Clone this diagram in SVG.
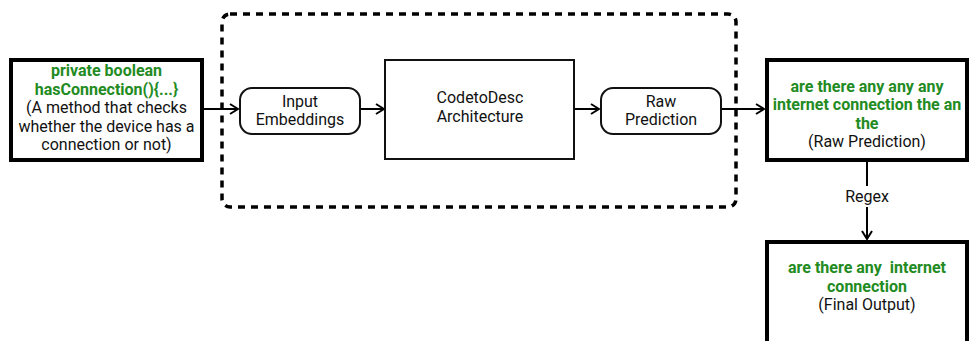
<svg xmlns="http://www.w3.org/2000/svg" width="971" height="341" viewBox="0 0 971 341">
<defs>
<style>
text{font-family:Roboto,"Liberation Sans",sans-serif;font-size:16px;text-anchor:middle;fill:#111}
.g{fill:#228b22;font-weight:bold}
.thick{fill:#fff;stroke:#000;stroke-width:4}
.thin{fill:#fff;stroke:#111;stroke-width:2}
.conn{stroke:#000;stroke-width:2;fill:none}
</style>
<marker id="arr" viewBox="0 0 10 12" refX="9" refY="6" markerWidth="10" markerHeight="12" markerUnits="userSpaceOnUse" orient="auto">
<path d="M1,1 L9,6 L1,11" fill="none" stroke="#000" stroke-width="2"/>
</marker>
</defs>
<rect width="971" height="341" fill="#fff"/>
<g id="group-box">
<rect x="222" y="14" width="514" height="193" rx="8" fill="none" stroke="#000" stroke-width="3.5" stroke-dasharray="7 6"/>
</g>
<g id="connectors">
<line class="conn" x1="204" y1="109" x2="238" y2="109" marker-end="url(#arr)"/>
<line class="conn" x1="360" y1="109" x2="384" y2="109" marker-end="url(#arr)"/>
<line class="conn" x1="574" y1="109" x2="599" y2="109" marker-end="url(#arr)"/>
<line class="conn" x1="721" y1="109" x2="764" y2="109" marker-end="url(#arr)"/>
<line class="conn" x1="867" y1="162" x2="867" y2="239" marker-end="url(#arr)"/>
<rect x="843" y="186" width="48" height="21" fill="#fff"/>
<text x="867" y="202">Regex</text>
</g>
<g id="source-code">
<rect class="thick" x="11" y="60" width="191" height="100"/>
<text class="g" x="106.5" y="76">private boolean</text>
<text class="g" x="106.5" y="94.5">hasConnection(){...}</text>
<text x="106.5" y="113">(A method that checks</text>
<text x="106.5" y="131.5">whether the device has a</text>
<text x="106.5" y="150">connection or not)</text>
</g>
<g id="input-embeddings">
<rect class="thin" x="240" y="88" width="120" height="46" rx="12"/>
<text x="300" y="107">Input</text>
<text x="300" y="124.5">Embeddings</text>
</g>
<g id="codetodesc">
<rect class="thin" x="385" y="60" width="189" height="99"/>
<text x="480" y="103">CodetoDesc</text>
<text x="480" y="121.5">Architecture</text>
</g>
<g id="raw-prediction">
<rect class="thin" x="601" y="88" width="120" height="46" rx="12"/>
<text x="661" y="107">Raw</text>
<text x="661" y="124.5">Prediction</text>
</g>
<g id="raw-output">
<rect class="thick" x="767" y="60" width="200" height="100"/>
<text class="g" x="867" y="91.5">are there any any any</text>
<text class="g" x="867" y="110">internet connection the an</text>
<text class="g" x="867" y="128.5">the</text>
<text x="867" y="147">(Raw Prediction)</text>
</g>
<g id="final-output">
<rect class="thick" x="767" y="242" width="200" height="110"/>
<text class="g" x="867" y="273" style="white-space:pre">are there any  internet</text>
<text class="g" x="867" y="291.5">connection</text>
<text x="867" y="310">(Final Output)</text>
</g>
</svg>
